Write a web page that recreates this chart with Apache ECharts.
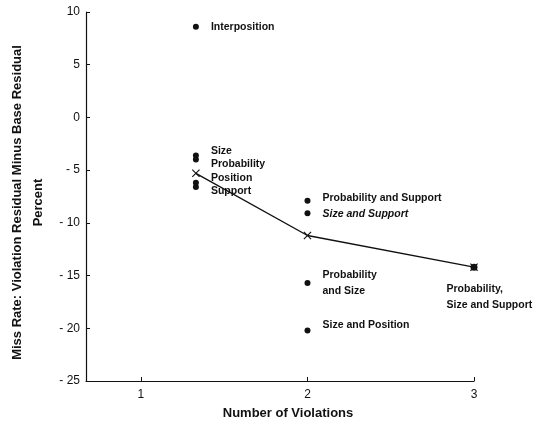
<!DOCTYPE html>
<html>
<head>
<meta charset="utf-8">
<script src="https://cdn.jsdelivr.net/npm/echarts@6/dist/echarts.min.js"></script>
<style>
  html, body { margin: 0; padding: 0; background: #fff; }
  #chart { width: 535px; height: 428px; }
</style>
</head>
<body>
<div id="chart"></div>
<script>
// Single-violation conditions
const singleX = 1.33;
const singleNames = ['Interposition', 'Size', 'Probability', 'Position', 'Support'];
const singleValues = [8.6, -3.6, -4.0, -6.2, -6.6];

// Two-violation conditions
const doubleX = 2;
const doubleNames = ['Probability and Support', 'Size and Support', 'Probability\nand Size', 'Size and Position'];
const doubleValues = [-7.9, -9.1, -15.7, -20.2];

// Three-violation condition
const tripleX = 3;
const tripleNames = ['Probability,\nSize and Support'];
const tripleValues = [-14.2];

// Group means joined by the line
const meanX = [1.33, 2, 3];
const meanValues = [-5.3, -11.2, -14.2];

const xTicks = [1, 2, 3];
const yTicks = { min: -25, max: 10, step: 5 };

// Label placement tweaks (vertical nudge in px) so stacked names do not collide
const labelNudge = {
  'Size': -4, 'Probability': 5, 'Position': -5, 'Support': 4,
  'Probability and Support': -3, 'Size and Support': 1, 'Size and Position': -5
};
const italicNames = ['Size and Support'];

const ink = '#111';
const font = 'Liberation Sans';

function pointData(x, names, values) {
  return names.map((n, i) => {
    const item = { name: n, value: [x, values[i]] };
    const lab = { offset: [0, labelNudge[n] || 0] };
    if (italicNames.includes(n)) lab.fontStyle = 'italic';
    item.label = lab;
    return item;
  });
}

const crossPath = 'path://M0 1L1 0L5 4L9 0L10 1L6 5L10 9L9 10L5 6L1 10L0 9L4 5Z';

const labelText = { color: ink, fontSize: 10.5, fontFamily: font, fontWeight: 'bold', lineHeight: 16 };

const chart = echarts.init(document.getElementById('chart'), null, { renderer: 'canvas' });
chart.setOption({
  animation: false,
  backgroundColor: '#fff',
  textStyle: { fontFamily: font, color: ink },
  grid: { left: 86, right: 61, top: 12, bottom: 47, outerBoundsMode: 'none', containLabel: false },
  xAxis: {
    type: 'value',
    min: 0.67,
    max: 3,
    name: 'Number of Violations',
    nameLocation: 'middle',
    nameGap: 26,
    nameTextStyle: { fontSize: 13, color: ink, fontFamily: font, fontWeight: 'bold', padding: [0, 0, 0, 16] },
    axisLine: { show: true, onZero: false, lineStyle: { color: ink, width: 1.2 } },
    axisTick: { show: true, inside: true, length: 4, customValues: xTicks, lineStyle: { color: ink } },
    axisLabel: { show: true, customValues: xTicks, color: ink, fontSize: 12, margin: 8, fontFamily: font },
    splitLine: { show: false }
  },
  yAxis: {
    type: 'value',
    min: yTicks.min,
    max: yTicks.max,
    interval: yTicks.step,
    name: 'Miss Rate: Violation Residual Minus Base Residual\nPercent',
    nameLocation: 'middle',
    nameGap: 37,
    nameTextStyle: { fontSize: 13, color: ink, fontFamily: font, fontWeight: 'bold', lineHeight: 21, align: 'center', padding: [0, 12, 0, 0] },
    axisLine: { show: true, onZero: false, lineStyle: { color: ink, width: 1.2 } },
    axisTick: { show: true, inside: true, length: 4, lineStyle: { color: ink } },
    axisLabel: {
      color: ink, fontSize: 12, margin: 6, fontFamily: font,
      formatter: v => (v < 0 ? '- ' + Math.abs(v) : String(v))
    },
    splitLine: { show: false }
  },
  series: [
    {
      type: 'line',
      data: meanX.map((x, i) => [x, meanValues[i]]),
      symbol: crossPath,
      symbolSize: 8,
      itemStyle: { color: ink, opacity: 1 },
      lineStyle: { color: ink, width: 1.4 },
      z: 2
    },
    {
      type: 'scatter',
      symbol: 'circle',
      symbolSize: 6,
      itemStyle: { color: ink, opacity: 1 },
      label: Object.assign({ show: true, position: 'right', distance: 12, formatter: p => p.name }, labelText),
      data: pointData(singleX, singleNames, singleValues).concat(pointData(doubleX, doubleNames, doubleValues)),
      z: 3
    },
    {
      type: 'scatter',
      symbol: 'circle',
      symbolSize: 7,
      itemStyle: { color: ink, opacity: 1 },
      label: Object.assign({ show: true, position: [-24, 17], align: 'left', verticalAlign: 'top', formatter: p => p.name }, labelText),
      data: tripleNames.map((n, i) => ({ name: n, value: [tripleX, tripleValues[i]] })),
      z: 3
    }
  ]
});
</script>
</body>
</html>
